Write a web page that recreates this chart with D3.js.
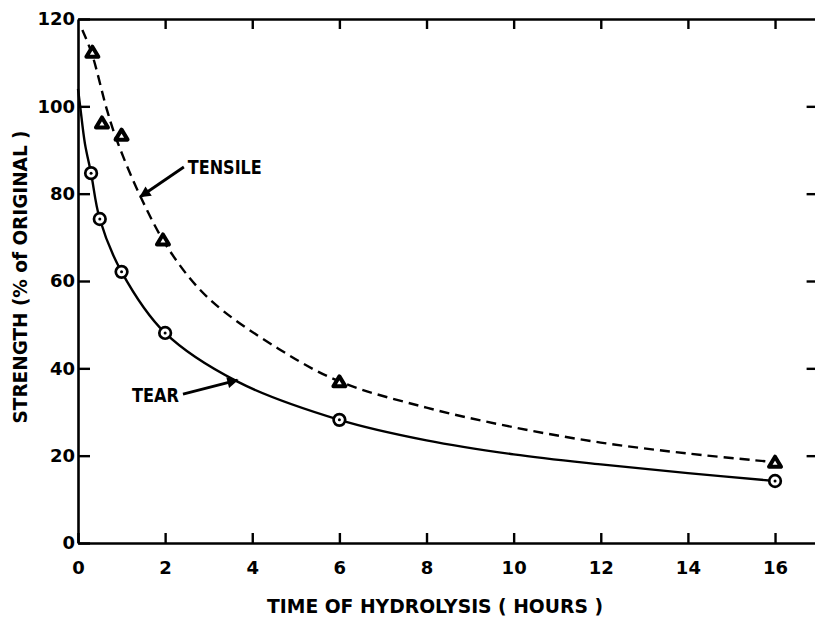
<!DOCTYPE html>
<html>
<head>
<meta charset="utf-8">
<script src="https://cdn.jsdelivr.net/npm/d3@7"></script>
<style>
  body { margin: 0; background: #fff; }
  svg text { font-family: "DejaVu Sans", sans-serif; font-weight: bold; fill: #000; }
</style>
</head>
<body>
<svg id="chart" width="815" height="619"></svg>
<script>
// marker readings (hours, % of original)
var tensileHours = [0.33, 0.55, 1, 1.95, 6, 16];
var tensileValues = [112.4, 96.2, 93.4, 69.4, 36.9, 18.5];
var tearHours = [0.3, 0.5, 1, 2, 6, 16];
var tearValues = [84.7, 74.2, 62.1, 48.1, 28.2, 14.2];

// the smooth fitted curves
var tensileCurveHours = [0.1, 0.32, 0.67, 0.9, 1.45, 2.1, 3, 4.6, 6, 8, 10, 12, 14, 16];
var tensileCurveValues = [117.5, 112, 99, 92, 79, 67, 56, 44.5, 37, 31, 26.5, 23, 20.5, 18.5];
var tearCurveHours = [0, 0.05, 0.16, 0.3, 0.5, 1, 2, 3.65, 6, 8, 10, 12, 14, 16];
var tearCurveValues = [104, 100, 91.4, 84.7, 74.2, 62.1, 48.1, 37, 28.2, 23.5, 20.3, 18, 16, 14.2];

var xTicks = [0, 2, 4, 6, 8, 10, 12, 14, 16];
var yTicks = [0, 20, 40, 60, 80, 100, 120];

var xTitle = 'TIME OF HYDROLYSIS ( HOURS )';
var yTitle = 'STRENGTH (% of ORIGINAL )';

// annotations: label text, arrow tail and tip in data units
var notes = [
  { text: 'TENSILE', tail: [2.43, 86.1], tip: [1.43, 79.3], textAt: [2.52, 86.1], anchor: 'start', len: 74 },
  { text: 'TEAR', tail: [2.41, 34.1], tip: [3.66, 37.3], textAt: [2.32, 33.9], anchor: 'end', len: 47 }
];

var svg = d3.select('#chart');

var x = d3.scaleLinear().domain([0, 17]).range([78, 818.6]);
var y = d3.scaleLinear().domain([0, 120]).range([543, 19]);

function styleAxis(g) {
  g.select('.domain').attr('stroke', '#000').attr('stroke-width', 2.6);
  g.selectAll('.tick line').attr('stroke', '#000').attr('stroke-width', 2.4);
  g.selectAll('.tick text').style('font-size', '18px').attr('fill', '#000');
}

// frame axes, ticks point inward
svg.append('g')
  .attr('transform', 'translate(0,' + y(0) + ')')
  .call(d3.axisBottom(x).tickValues(xTicks).tickSizeInner(-10).tickSizeOuter(0).tickPadding(18))
  .call(styleAxis);

svg.append('g')
  .attr('transform', 'translate(0,' + y(120) + ')')
  .call(d3.axisTop(x).tickValues(xTicks.slice(1)).tickSizeInner(-10).tickSizeOuter(0).tickFormat(''))
  .call(styleAxis);

svg.append('g')
  .attr('transform', 'translate(' + x(0) + ',0)')
  .call(d3.axisLeft(y).tickValues(yTicks).tickSizeInner(-12).tickSizeOuter(0).tickPadding(3))
  .call(styleAxis);

svg.append('g')
  .attr('transform', 'translate(' + x(17) + ',0)')
  .call(d3.axisRight(y).tickValues(yTicks.slice(1, -1)).tickSizeInner(-12).tickSizeOuter(0).tickFormat(''))
  .call(styleAxis);

// curves
var line = d3.line()
  .x(function(d) { return x(d[0]); })
  .y(function(d) { return y(d[1]); })
  .curve(d3.curveCatmullRom.alpha(0.5));

svg.append('path')
  .datum(d3.zip(tensileCurveHours, tensileCurveValues))
  .attr('d', line)
  .attr('fill', 'none')
  .attr('stroke', '#000')
  .attr('stroke-width', 2.4)
  .attr('stroke-dasharray', '10,6');

svg.append('path')
  .datum(d3.zip(tearCurveHours, tearCurveValues))
  .attr('d', line)
  .attr('fill', 'none')
  .attr('stroke', '#000')
  .attr('stroke-width', 2.4);

// triangle markers (tensile)
var tri = svg.append('g').selectAll('g')
  .data(d3.zip(tensileHours, tensileValues))
  .join('g')
  .attr('transform', function(d) { return 'translate(' + x(d[0]) + ',' + y(d[1]) + ')'; });

tri.append('path')
  .attr('d', 'M0,-5.5L6,4.5L-6,4.5Z')
  .attr('fill', '#fff')
  .attr('stroke', '#000')
  .attr('stroke-width', 4)
  .attr('stroke-linejoin', 'round');

// circle markers (tear)
var circ = svg.append('g').selectAll('g')
  .data(d3.zip(tearHours, tearValues))
  .join('g')
  .attr('transform', function(d) { return 'translate(' + x(d[0]) + ',' + y(d[1]) + ')'; });

circ.append('circle')
  .attr('r', 5.8)
  .attr('fill', '#fff')
  .attr('stroke', '#000')
  .attr('stroke-width', 2.7);

circ.append('circle')
  .attr('r', 1.5)
  .attr('fill', '#000');

// arrowhead
svg.append('defs').append('marker')
  .attr('id', 'head')
  .attr('viewBox', '0 0 10 10')
  .attr('refX', 9)
  .attr('refY', 5)
  .attr('markerWidth', 5)
  .attr('markerHeight', 4)
  .attr('markerUnits', 'strokeWidth')
  .attr('orient', 'auto')
  .append('path')
  .attr('d', 'M0,0L10,5L0,10Z')
  .attr('fill', '#000');

notes.forEach(function(n) {
  svg.append('line')
    .attr('x1', x(n.tail[0])).attr('y1', y(n.tail[1]))
    .attr('x2', x(n.tip[0])).attr('y2', y(n.tip[1]))
    .attr('stroke', '#000')
    .attr('stroke-width', 2.8)
    .attr('marker-end', 'url(#head)');

  svg.append('text')
    .attr('x', x(n.textAt[0]))
    .attr('y', y(n.textAt[1]))
    .attr('dy', '0.36em')
    .attr('text-anchor', n.anchor)
    .attr('textLength', n.len)
    .attr('lengthAdjust', 'spacingAndGlyphs')
    .style('font-size', '20px')
    .text(n.text);
});

// axis titles
svg.append('text')
  .attr('x', 435)
  .attr('y', 613)
  .attr('text-anchor', 'middle')
  .attr('textLength', 336)
  .attr('lengthAdjust', 'spacingAndGlyphs')
  .style('font-size', '20px')
  .text(xTitle);

svg.append('text')
  .attr('transform', 'translate(27,277) rotate(-90)')
  .attr('text-anchor', 'middle')
  .attr('textLength', 293)
  .attr('lengthAdjust', 'spacingAndGlyphs')
  .style('font-size', '20px')
  .text(yTitle);
</script>
</body>
</html>
